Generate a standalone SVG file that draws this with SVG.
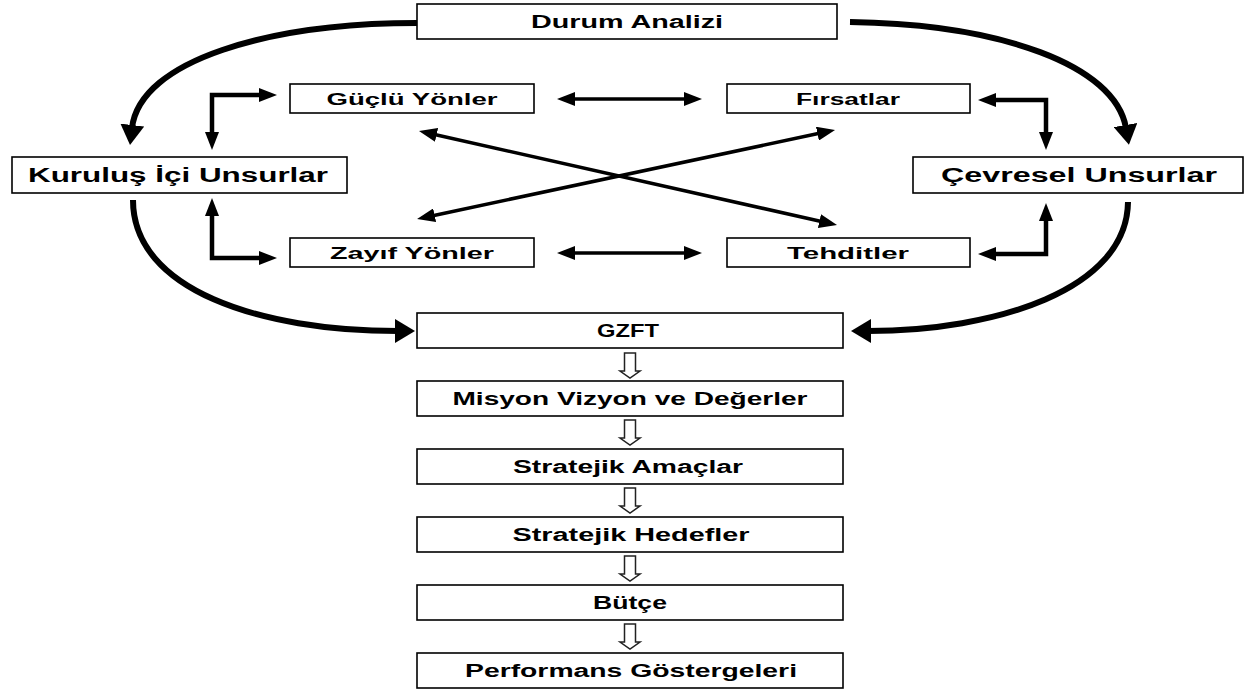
<svg xmlns="http://www.w3.org/2000/svg" width="1247" height="692" viewBox="0 0 1247 692">
<style>
.box{fill:#fff;stroke:#000;stroke-width:1.6}
.t{font-family:"Liberation Sans",Arial,sans-serif;font-weight:bold;fill:#000;text-anchor:middle;dominant-baseline:central}
.thin{fill:none;stroke:#000;stroke-width:3.5;marker-start:url(#a);marker-end:url(#a)}
.elb{fill:none;stroke:#000;stroke-width:4.5;marker-start:url(#a);marker-end:url(#a)}
.big{fill:none;stroke:#000;stroke-width:6;marker-end:url(#b)}
.hol{fill:#fff;stroke:#222;stroke-width:1.5}
</style>
<defs>
<marker id="a" markerUnits="userSpaceOnUse" markerWidth="18" markerHeight="14" viewBox="0 0 18 14" refX="2" refY="7" orient="auto-start-reverse"><path d="M0,0 L18,7 L0,14 z" fill="#000"/></marker>
<marker id="b" markerUnits="userSpaceOnUse" markerWidth="20" markerHeight="24" viewBox="0 0 20 24" refX="3" refY="12" orient="auto"><path d="M0,0 L20,12 L0,24 z" fill="#000"/></marker>
<path id="h" d="M-5.5,0 V18 H-10 L0,25 L10,18 H5.5 V0 Z"/>
</defs>
<g id="connectors">
<path class="big" d="M417,23 C270,23 140,60 132,128"/>
<path class="big" d="M850,22 C1000,24 1115,65 1126,128"/>
<path class="big" d="M133,200 C133,290 260,331 398,331"/>
<path class="big" d="M1128,202 C1127,290 995,331 868,331"/>
<path class="elb" d="M261,95 H212 V134"/>
<path class="elb" d="M212,214 V258 H261"/>
<path class="elb" d="M994,100 H1046 V134"/>
<path class="elb" d="M994,254 H1046 V219"/>
<path class="thin" d="M573,99 H686"/>
<path class="thin" d="M573,253 H686"/>
<path class="thin" d="M434.6,134.5 L821.4,221.5"/>
<path class="thin" d="M819.4,133.3 L432.7,215.7"/>
<use href="#h" class="hol" x="630" y="353"/>
<use href="#h" class="hol" x="630" y="420"/>
<use href="#h" class="hol" x="630" y="488"/>
<use href="#h" class="hol" x="630" y="556"/>
<use href="#h" class="hol" x="630" y="624"/>
</g>
<g id="durum"><rect class="box" x="417" y="4" width="420" height="35"/><text class="t" x="627" y="22" font-size="18" textLength="192" lengthAdjust="spacingAndGlyphs">Durum Analizi</text></g>
<g id="guclu"><rect class="box" x="290" y="84" width="244" height="29"/><text class="t" x="412" y="99" font-size="16" textLength="171" lengthAdjust="spacingAndGlyphs">Güçlü Yönler</text></g>
<g id="firsatlar"><rect class="box" x="727" y="84" width="243" height="29"/><text class="t" x="848" y="99" font-size="16" textLength="104" lengthAdjust="spacingAndGlyphs">Fırsatlar</text></g>
<g id="kurulus"><rect class="box" x="12" y="157" width="335" height="36"/><text class="t" x="178" y="175" font-size="20" textLength="300" lengthAdjust="spacingAndGlyphs">Kuruluş İçi Unsurlar</text></g>
<g id="cevresel"><rect class="box" x="913" y="157" width="330" height="36"/><text class="t" x="1079" y="175" font-size="20" textLength="276" lengthAdjust="spacingAndGlyphs">Çevresel Unsurlar</text></g>
<g id="zayif"><rect class="box" x="290" y="238" width="244" height="29"/><text class="t" x="412" y="253" font-size="16" textLength="164" lengthAdjust="spacingAndGlyphs">Zayıf Yönler</text></g>
<g id="tehditler"><rect class="box" x="727" y="238" width="243" height="29"/><text class="t" x="848" y="253" font-size="16" textLength="122" lengthAdjust="spacingAndGlyphs">Tehditler</text></g>
<g id="gzft"><rect class="box" x="417" y="313" width="426" height="35"/><text class="t" x="628" y="331" font-size="18" textLength="62" lengthAdjust="spacingAndGlyphs">GZFT</text></g>
<g id="misyon"><rect class="box" x="417" y="381" width="426" height="35"/><text class="t" x="630" y="399" font-size="18" textLength="355" lengthAdjust="spacingAndGlyphs">Misyon Vizyon ve Değerler</text></g>
<g id="amaclar"><rect class="box" x="417" y="449" width="426" height="35"/><text class="t" x="628" y="467" font-size="18" textLength="230" lengthAdjust="spacingAndGlyphs">Stratejik Amaçlar</text></g>
<g id="hedefler"><rect class="box" x="417" y="517" width="426" height="35"/><text class="t" x="631" y="535" font-size="18" textLength="237" lengthAdjust="spacingAndGlyphs">Stratejik Hedefler</text></g>
<g id="butce"><rect class="box" x="417" y="585" width="426" height="35"/><text class="t" x="630" y="603" font-size="18" textLength="74" lengthAdjust="spacingAndGlyphs">Bütçe</text></g>
<g id="performans"><rect class="box" x="417" y="653" width="426" height="35"/><text class="t" x="631" y="671" font-size="18" textLength="332" lengthAdjust="spacingAndGlyphs">Performans Göstergeleri</text></g>
</svg>
